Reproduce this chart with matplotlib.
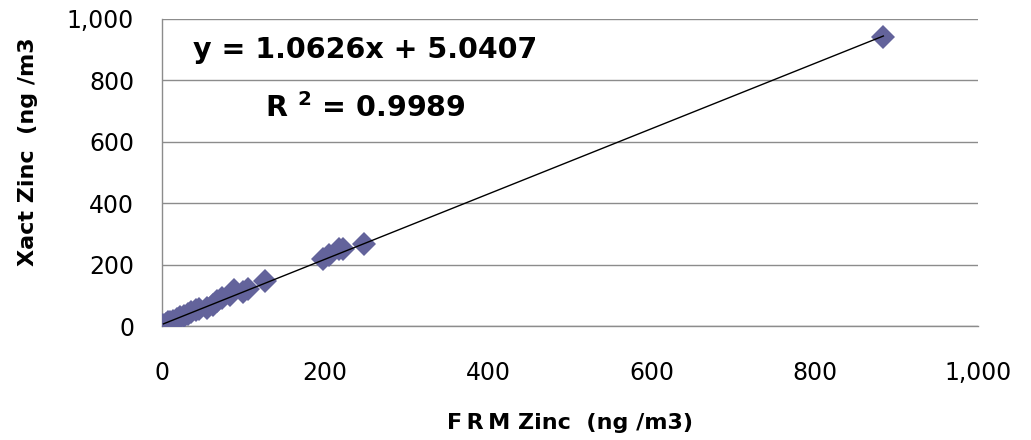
import matplotlib
matplotlib.use("Agg")
import matplotlib.pyplot as plt
import numpy as np

# FRM vs Xact zinc concentrations (ng/m3)
frm_zinc = [2, 5, 8, 10, 14, 18, 22, 27, 32, 36, 42, 46, 55, 63, 68, 74,
            83, 88, 100, 105, 126, 197, 205, 217, 222, 248, 884]
xact_zinc = [5, 8, 12, 14, 18, 22, 30, 32, 40, 47, 52, 57, 60, 68, 82, 90,
             100, 117, 112, 120, 147, 217, 230, 251, 252, 266, 941]

# Linear trendline
slope = 1.0626
intercept = 5.0407
r_squared = 0.9989

tick_values = [0, 200, 400, 600, 800, 1000]
tick_labels = ["0", "200", "400", "600", "800", "1,000"]

plt.rcParams["font.family"] = ["DejaVu Sans"]

fig = plt.figure(figsize=(10.31, 4.40), dpi=100)
ax = fig.add_axes([0.157, 0.259, 0.7916, 0.698])

point_color = "#63639b"
grid_color = "#8c8c8c"

ax.plot(frm_zinc, xact_zinc, linestyle="none", marker="D", markersize=12.5,
        color=point_color, markeredgewidth=0, zorder=3)

x_fit = np.array([min(frm_zinc), max(frm_zinc)])
ax.plot(x_fit, slope * x_fit + intercept, color="black", linewidth=1.0, zorder=4)

ax.set_xlim(0, 1000)
ax.set_ylim(0, 1000)
ax.set_xticks(tick_values)
ax.set_xticklabels(tick_labels)
ax.set_yticks(tick_values)
ax.set_yticklabels(tick_labels)
ax.tick_params(axis="both", length=0, labelsize=17)
ax.tick_params(axis="x", pad=25)
ax.tick_params(axis="y", pad=20)

ax.yaxis.grid(True, color=grid_color, linewidth=1.0)
ax.set_axisbelow(True)
for side in ["top", "right"]:
    ax.spines[side].set_visible(False)
for side in ["left", "bottom"]:
    ax.spines[side].set_color(grid_color)
    ax.spines[side].set_linewidth(1.0)

ax.set_xlabel("F\u2009R\u2009M Zinc  (ng /m3)", fontsize=16, fontweight="bold", labelpad=20)
ax.set_ylabel("Xact Zinc  (ng /m3", fontsize=16, fontweight="bold")
ax.yaxis.set_label_coords(-0.152, 0.567)

ax.text(0.249, 0.873, f"y = {slope:.4f}x + {intercept:.4f}", transform=ax.transAxes,
        ha="center", va="baseline", fontsize=20.5, fontweight="bold")
ax.text(0.249, 0.681, r"R $^{\mathbf{2}}$ = " + f"{r_squared:.4f}", transform=ax.transAxes,
        ha="center", va="baseline", fontsize=20.5, fontweight="bold")

fig.savefig("out.png", dpi=100)
